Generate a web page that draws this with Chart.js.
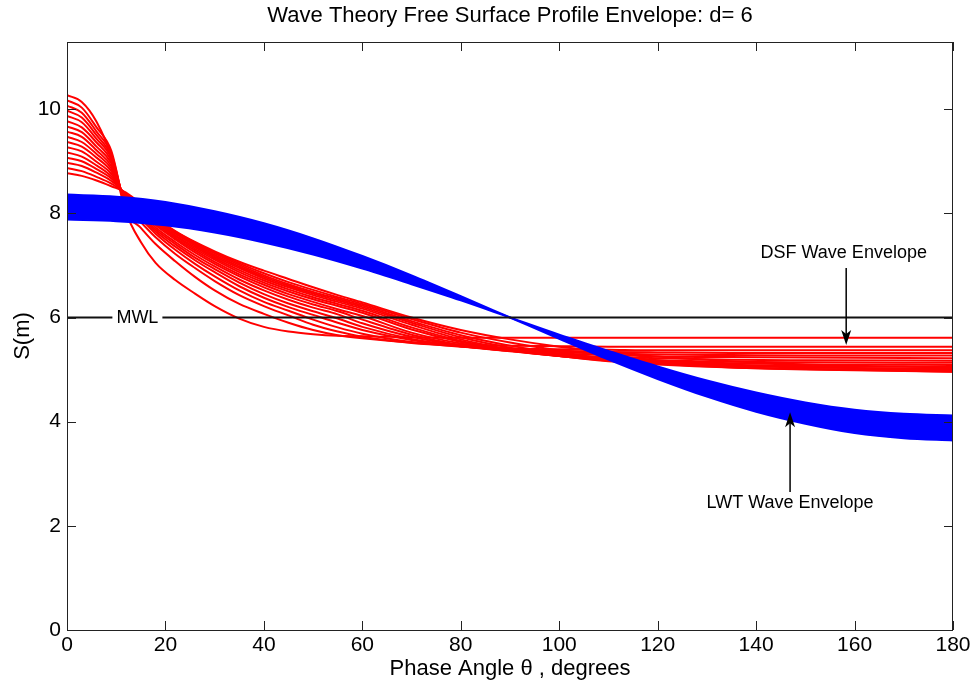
<!DOCTYPE html>
<html>
<head>
<meta charset="utf-8">
<script src="https://cdn.jsdelivr.net/npm/chart.js@4.4.1/dist/chart.umd.min.js"></script>
<style>
  body { margin: 0; background: #fff; }
  canvas { display: block; }
</style>
</head>
<body>
<canvas id="wave" width="975" height="685"></canvas>
<script>
const thetaDsf = [0, 3, 6, 9, 12, 15, 18, 22, 26, 30, 35, 40, 45, 50, 55, 60, 70, 80, 90, 100, 110, 120, 135, 150, 180];

// DSF free surface profiles, lowest crest first
const dsf01 = [8.77, 8.72, 8.63, 8.52, 8.40, 8.18, 7.92, 7.66, 7.45, 7.27, 7.07, 6.90, 6.74, 6.58, 6.43, 6.29, 6.00, 5.76, 5.58, 5.44, 5.34, 5.25, 5.16, 5.10, 5.04];
const dsf02 = [8.87, 8.81, 8.70, 8.57, 8.38, 8.17, 7.91, 7.65, 7.44, 7.25, 7.04, 6.85, 6.68, 6.53, 6.39, 6.26, 5.97, 5.71, 5.52, 5.37, 5.27, 5.18, 5.10, 5.05, 4.99];
const dsf03 = [8.97, 8.91, 8.78, 8.62, 8.37, 8.15, 7.90, 7.64, 7.43, 7.23, 7.01, 6.81, 6.64, 6.49, 6.36, 6.23, 5.93, 5.66, 5.46, 5.31, 5.21, 5.13, 5.05, 5.01, 4.96];
const dsf04 = [9.07, 9.00, 8.85, 8.67, 8.35, 8.14, 7.89, 7.63, 7.41, 7.20, 6.98, 6.78, 6.61, 6.46, 6.33, 6.20, 5.90, 5.62, 5.42, 5.28, 5.18, 5.11, 5.04, 5.00, 4.96];
const dsf05 = [9.17, 9.09, 8.92, 8.71, 8.33, 8.12, 7.87, 7.61, 7.38, 7.17, 6.95, 6.75, 6.58, 6.43, 6.30, 6.17, 5.86, 5.58, 5.39, 5.26, 5.16, 5.10, 5.04, 5.01, 4.98];
const dsf06 = [9.27, 9.19, 8.99, 8.76, 8.31, 8.10, 7.85, 7.58, 7.35, 7.14, 6.91, 6.71, 6.54, 6.39, 6.26, 6.13, 5.81, 5.55, 5.38, 5.26, 5.17, 5.12, 5.07, 5.04, 5.01];
const dsf07 = [9.37, 9.28, 9.07, 8.81, 8.28, 8.08, 7.83, 7.56, 7.32, 7.11, 6.87, 6.67, 6.50, 6.35, 6.22, 6.09, 5.77, 5.53, 5.37, 5.26, 5.19, 5.14, 5.09, 5.07, 5.05];
const dsf08 = [9.47, 9.37, 9.14, 8.86, 8.25, 8.05, 7.80, 7.53, 7.29, 7.07, 6.83, 6.63, 6.45, 6.30, 6.16, 6.03, 5.71, 5.50, 5.36, 5.26, 5.20, 5.16, 5.12, 5.10, 5.09];
const dsf09 = [9.57, 9.47, 9.21, 8.91, 8.22, 8.02, 7.77, 7.50, 7.25, 7.03, 6.79, 6.58, 6.40, 6.25, 6.12, 5.96, 5.67, 5.47, 5.35, 5.27, 5.22, 5.18, 5.15, 5.14, 5.13];
const dsf10 = [9.67, 9.56, 9.28, 8.96, 8.20, 7.99, 7.73, 7.45, 7.20, 6.98, 6.73, 6.52, 6.34, 6.19, 6.06, 5.89, 5.63, 5.46, 5.36, 5.29, 5.24, 5.22, 5.19, 5.18, 5.17];
const dsf11 = [9.77, 9.65, 9.36, 9.01, 8.18, 7.96, 7.69, 7.41, 7.15, 6.93, 6.67, 6.45, 6.27, 6.12, 5.98, 5.82, 5.59, 5.45, 5.36, 5.31, 5.28, 5.25, 5.24, 5.23, 5.22];
const dsf12 = [9.87, 9.75, 9.43, 9.06, 8.16, 7.93, 7.65, 7.36, 7.10, 6.87, 6.60, 6.38, 6.20, 6.05, 5.90, 5.76, 5.57, 5.45, 5.38, 5.34, 5.31, 5.29, 5.28, 5.27, 5.27];
const dsf13 = [9.97, 9.84, 9.50, 9.10, 8.13, 7.89, 7.61, 7.30, 7.03, 6.79, 6.52, 6.30, 6.13, 5.96, 5.81, 5.69, 5.53, 5.44, 5.39, 5.36, 5.34, 5.33, 5.32, 5.32, 5.32];
const dsf14 = [10.07, 9.93, 9.57, 9.15, 8.10, 7.83, 7.54, 7.22, 6.95, 6.70, 6.43, 6.22, 6.04, 5.86, 5.73, 5.63, 5.51, 5.45, 5.41, 5.39, 5.38, 5.37, 5.37, 5.37, 5.37];
const dsf15 = [10.17, 10.03, 9.65, 9.20, 8.05, 7.72, 7.41, 7.08, 6.78, 6.52, 6.26, 6.07, 5.90, 5.76, 5.66, 5.60, 5.52, 5.48, 5.46, 5.45, 5.44, 5.44, 5.44, 5.44, 5.44];
const dsf16 = [10.27, 10.14, 9.76, 9.10, 8.02, 7.45, 7.05, 6.72, 6.46, 6.22, 5.98, 5.82, 5.73, 5.68, 5.65, 5.64, 5.62, 5.61, 5.61, 5.61, 5.61, 5.61, 5.61, 5.61, 5.61];
const dsfCurves = [dsf01, dsf02, dsf03, dsf04, dsf05, dsf06, dsf07, dsf08, dsf09, dsf10, dsf11, dsf12, dsf13, dsf14, dsf15, dsf16];

// LWT envelope: largest and smallest amplitude profiles
const thetaLwt = [0, 10, 20, 30, 40, 50, 60, 70, 80, 90, 100, 110, 120, 130, 140, 150, 160, 170, 180];
const lwtHigh = [8.36, 8.32, 8.22, 8.04, 7.81, 7.52, 7.18, 6.81, 6.41, 6.00, 5.59, 5.19, 4.82, 4.48, 4.19, 3.96, 3.78, 3.68, 3.64];
const lwtLow = [7.88, 7.85, 7.77, 7.63, 7.44, 7.21, 6.94, 6.64, 6.33, 6.00, 5.67, 5.36, 5.06, 4.79, 4.56, 4.37, 4.23, 4.15, 4.12];

const mwl = 6;
const xTicks = [0, 20, 40, 60, 80, 100, 120, 140, 160, 180];
const yTicks = [0, 2, 4, 6, 8, 10];

const titleText = 'Wave Theory Free Surface Profile Envelope: d= 6';
const xTitle = 'Phase Angle \u03b8 , degrees';
const yTitle = 'S(m)';
const font = '"Liberation Sans", Arial, sans-serif';

const pts = (xs, ys) => xs.map((x, i) => ({x: x, y: ys[i]}));

const datasets = [];
datasets.push({
    data: [{x: 0, y: mwl}, {x: 180, y: mwl}],
    borderColor: '#111', borderWidth: 2, pointRadius: 0, order: 0
});
datasets.push({
    data: pts(thetaLwt, lwtHigh),
    borderColor: '#0000ff', borderWidth: 2, pointRadius: 0,
    cubicInterpolationMode: 'monotone', order: 1
});
datasets.push({
    data: pts(thetaLwt, lwtLow),
    borderColor: '#0000ff', borderWidth: 2, pointRadius: 0,
    backgroundColor: '#0000ff', fill: '-1',
    cubicInterpolationMode: 'monotone', order: 1
});
dsfCurves.forEach(c => {
    datasets.push({
        data: pts(thetaDsf, c),
        borderColor: '#ff0000', borderWidth: 2, pointRadius: 0,
        cubicInterpolationMode: 'monotone', order: 2
    });
});

function arrow(ctx, x, y0, y1) {
    const dir = y1 > y0 ? 1 : -1;
    ctx.beginPath();
    ctx.moveTo(x, y0);
    ctx.lineTo(x, y1 - dir * 10);
    ctx.stroke();
    ctx.beginPath();
    ctx.moveTo(x, y1);
    ctx.lineTo(x - 5, y1 - dir * 15);
    ctx.lineTo(x, y1 - dir * 11);
    ctx.lineTo(x + 5, y1 - dir * 15);
    ctx.closePath();
    ctx.fill();
}

const decor = {
    id: 'decor',
    afterDraw(chart) {
        const {ctx, chartArea: a, scales: {x, y}} = chart;
        ctx.save();
        // box and inward ticks
        ctx.strokeStyle = '#222';
        ctx.lineWidth = 1;
        ctx.strokeRect(a.left + 0.5, a.top + 0.5, a.right - a.left - 1, a.bottom - a.top);
        ctx.beginPath();
        xTicks.forEach(v => {
            const px = Math.round(x.getPixelForValue(v)) + 0.5;
            ctx.moveTo(px, a.bottom); ctx.lineTo(px, a.bottom - 9);
            ctx.moveTo(px, a.top); ctx.lineTo(px, a.top + 9);
        });
        yTicks.forEach(v => {
            const py = Math.round(y.getPixelForValue(v)) + 0.5;
            ctx.moveTo(a.left, py); ctx.lineTo(a.left + 9, py);
            ctx.moveTo(a.right, py); ctx.lineTo(a.right - 9, py);
        });
        ctx.stroke();

        // MWL label
        ctx.font = '18px ' + font;
        ctx.textAlign = 'center';
        ctx.textBaseline = 'middle';
        const mx = x.getPixelForValue(14.3), my = y.getPixelForValue(mwl);
        ctx.fillStyle = '#fff';
        ctx.fillRect(mx - 25, my - 8, 50, 16);
        ctx.fillStyle = '#000';
        ctx.fillText('MWL', mx, my + 1);

        // envelope labels and arrows
        ctx.font = '18px ' + font;
        ctx.fillText('DSF Wave Envelope', x.getPixelForValue(157.8), y.getPixelForValue(7.24));
        ctx.fillText('LWT Wave Envelope', x.getPixelForValue(146.9), y.getPixelForValue(2.44));
        ctx.strokeStyle = '#000';
        ctx.lineWidth = 1.5;
        arrow(ctx, x.getPixelForValue(158.3), y.getPixelForValue(6.95), y.getPixelForValue(5.47));
        arrow(ctx, x.getPixelForValue(146.9), y.getPixelForValue(2.65), y.getPixelForValue(4.18));

        // titles
        ctx.font = '22px ' + font;
        ctx.fillText(titleText, (a.left + a.right) / 2, 16);
        ctx.fillText(xTitle, (a.left + a.right) / 2, 669);
        ctx.translate(23, (a.top + a.bottom) / 2);
        ctx.rotate(-Math.PI / 2);
        ctx.fillText(yTitle, 0, 0);
        ctx.restore();
    }
};

new Chart(document.getElementById('wave'), {
    type: 'line',
    data: {datasets: datasets},
    options: {
        responsive: false,
        animation: false,
        devicePixelRatio: 1,
        layout: {padding: {top: 42, right: 22, left: 0, bottom: 0}},
        plugins: {legend: {display: false}, tooltip: {enabled: false}},
        scales: {
            x: {
                type: 'linear', min: 0, max: 180,
                grid: {display: false, drawTicks: false}, border: {display: false},
                afterBuildTicks: s => { s.ticks = xTicks.map(v => ({value: v})); },
                afterFit: s => { s.height = 55; },
                ticks: {color: '#000', padding: 3, font: {size: 21, family: font}, maxRotation: 0}
            },
            y: {
                type: 'linear', min: 0, max: 11.29,
                grid: {display: false, drawTicks: false}, border: {display: false},
                afterBuildTicks: s => { s.ticks = yTicks.map(v => ({value: v})); },
                afterFit: s => { s.width = 67; },
                ticks: {color: '#000', padding: 6, font: {size: 21, family: font}}
            }
        }
    },
    plugins: [decor]
});
</script>
</body>
</html>
